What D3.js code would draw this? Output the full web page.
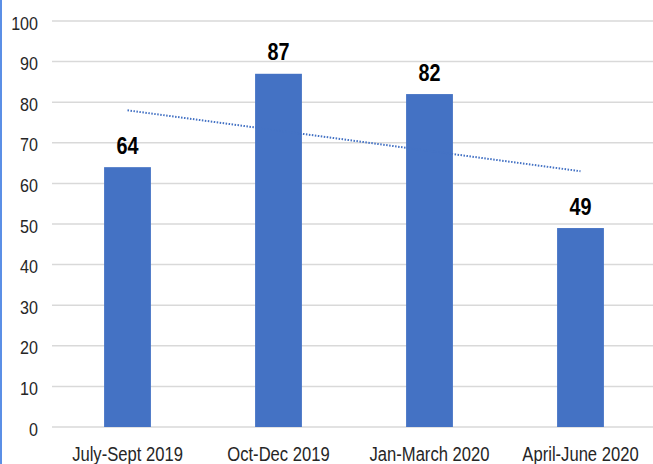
<!DOCTYPE html>
<html>
<head>
<meta charset="utf-8">
<script src="https://cdn.jsdelivr.net/npm/d3@7"></script>
<style>
  body { margin: 0; background: #fff; }
  svg { display: block; }
  .tick-label { font-family: "Liberation Sans", Arial, sans-serif; fill: #262626; }
  .value-label { font-family: "Liberation Sans", Arial, sans-serif; font-weight: bold; fill: #000; }
</style>
</head>
<body>
<svg id="chart" width="653" height="464"></svg>
<script>
// data
var categories = ["July-Sept 2019", "Oct-Dec 2019", "Jan-March 2020", "April-June 2020"];
var values = [64, 87, 82, 49];
var yTicks = [0, 10, 20, 30, 40, 50, 60, 70, 80, 90, 100];

var svg = d3.select("#chart"),
    plotLeft = 52, plotRight = 656, plotTop = 21, plotBottom = 427;

// scales
var x = d3.scaleBand()
    .domain(categories)
    .range([plotLeft, plotRight])
    .paddingInner(0.69)
    .paddingOuter(0.345);

var y = d3.scaleLinear()
    .domain([0, 100])
    .range([plotBottom, plotTop]);

// squeeze a text selection to look like a narrow face
function squeeze(k) {
  return function(sel) {
    sel.each(function(){
      var w = this.getComputedTextLength();
      d3.select(this)
        .attr("textLength", w * k)
        .attr("lengthAdjust", "spacingAndGlyphs");
    });
  };
}

// gridlines
svg.append("g")
  .selectAll("line")
  .data(yTicks)
  .enter().append("line")
    .attr("x1", plotLeft)
    .attr("x2", 653)
    .attr("y1", function(d){ return y(d); })
    .attr("y2", function(d){ return y(d); })
    .attr("stroke", "#d9d9d9")
    .attr("stroke-width", 1.5);

// y tick labels
svg.append("g")
  .selectAll("text")
  .data(yTicks)
  .enter().append("text")
    .attr("class", "tick-label")
    .attr("x", 38)
    .attr("y", function(d){ return y(d) + 8.5; })
    .attr("text-anchor", "end")
    .style("font-size", "18.5px")
    .text(function(d){ return d; })
    .call(squeeze(0.87));

// bars
svg.append("g")
  .selectAll("rect")
  .data(values)
  .enter().append("rect")
    .attr("x", function(d, i){ return x(categories[i]); })
    .attr("width", x.bandwidth())
    .attr("y", function(d){ return y(d); })
    .attr("height", function(d){ return y(0) - y(d); })
    .attr("fill", "#4472c4");

// value labels
svg.append("g")
  .selectAll("text")
  .data(values)
  .enter().append("text")
    .attr("class", "value-label")
    .attr("x", function(d, i){ return x(categories[i]) + x.bandwidth() / 2; })
    .attr("y", function(d){ return y(d) - 13.5; })
    .attr("text-anchor", "middle")
    .style("font-size", "23px")
    .text(function(d){ return d; })
    .call(squeeze(0.86));

// x labels
svg.append("g")
  .selectAll("text")
  .data(categories)
  .enter().append("text")
    .attr("class", "tick-label")
    .attr("x", function(d){ return x(d) + x.bandwidth() / 2; })
    .attr("y", 461)
    .attr("text-anchor", "middle")
    .style("font-size", "20px")
    .text(function(d){ return d; })
    .call(squeeze(0.83));

// linear trendline (least squares over category index)
var n = values.length,
    mx = d3.mean(values, function(d, i){ return i; }),
    my = d3.mean(values),
    slope = d3.sum(values, function(d, i){ return (i - mx) * (d - my); }) /
            d3.sum(values, function(d, i){ return (i - mx) * (i - mx); }),
    icpt = my - slope * mx;

var line = d3.line()
    .x(function(d){ return x(categories[d]) + x.bandwidth() / 2; })
    .y(function(d){ return y(icpt + slope * d); });

svg.append("path")
    .datum([0, n - 1])
    .attr("d", line)
    .attr("fill", "none")
    .attr("stroke", "#4472c4")
    .attr("stroke-width", 2)
    .attr("stroke-dasharray", "1.5,1.5");

// left border
svg.append("line")
    .attr("x1", 1).attr("x2", 1)
    .attr("y1", 0).attr("y2", 464)
    .attr("stroke", "#5b8fe6")
    .attr("stroke-width", 2);
</script>
</body>
</html>
